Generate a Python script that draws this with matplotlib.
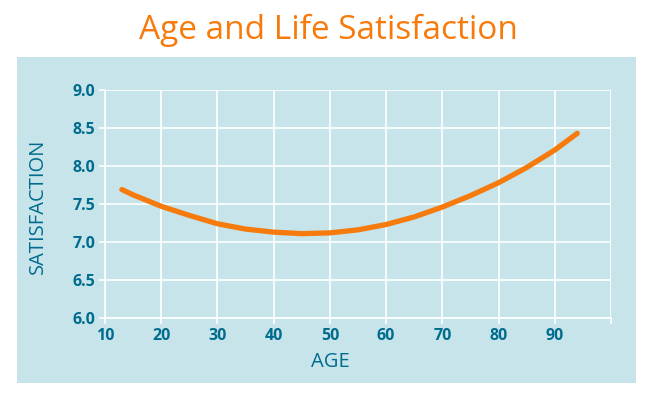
import matplotlib.pyplot as plt
from matplotlib.patches import Rectangle

# values
ages = [13, 15, 20, 25, 30, 35, 40, 45, 50, 55, 60, 65, 70, 75, 80, 85, 90, 94]
satisfaction = [7.69, 7.62, 7.47, 7.35, 7.24, 7.17, 7.13, 7.11, 7.12, 7.16,
                7.23, 7.33, 7.46, 7.61, 7.78, 7.98, 8.21, 8.43]
x_ticks = [10, 20, 30, 40, 50, 60, 70, 80, 90, 100]
x_tick_labels = ["10", "20", "30", "40", "50", "60", "70", "80", "90", ""]
y_ticks = [6.0, 6.5, 7.0, 7.5, 8.0, 8.5, 9.0]

ORANGE = "#F77A0C"
PANEL = "#C6E4EA"
TEAL = "#006C8E"

plt.rcParams['font.family'] = ['Open Sans', 'DejaVu Sans']

fig = plt.figure(figsize=(6.5, 3.97), dpi=100)
fig.patch.set_facecolor("white")

# light blue panel behind the plot
fig.patches.append(Rectangle((17 / 650, 14 / 397), 619 / 650, 326 / 397,
                             transform=fig.transFigure, facecolor=PANEL,
                             edgecolor="none", zorder=0))

fig.text(328 / 650, 1 - 30 / 397, "Age and Life Satisfaction", color=ORANGE,
         fontsize=24, ha="center", va="center")

ax = fig.add_axes([105 / 650, 79 / 397, 506 / 650, 228 / 397])
ax.set_zorder(2)
ax.set_facecolor(PANEL)
ax.plot(ages, satisfaction, color=ORANGE, linewidth=3.8,
        solid_capstyle="round", solid_joinstyle="round", zorder=3)

ax.set_xlim(10, 100)
ax.set_ylim(6.0, 9.0)
ax.set_xticks(x_ticks)
ax.set_xticklabels(x_tick_labels)
ax.set_yticks(y_ticks)
ax.set_yticklabels([f"{v:.1f}" for v in y_ticks])
ax.grid(True, color="white", linewidth=1.2)
ax.set_axisbelow(True)

for side in ["top", "right"]:
    ax.spines[side].set_visible(False)
for side in ["left", "bottom"]:
    ax.spines[side].set_color("white")
    ax.spines[side].set_linewidth(1.2)

ax.tick_params(colors="white", length=4, width=1.2, labelcolor=TEAL,
               labelsize=11.5, pad=3)
for lbl in ax.get_xticklabels() + ax.get_yticklabels():
    lbl.set_fontweight("bold")

ax.set_xlabel("AGE", color=TEAL, fontsize=14.5)
ax.xaxis.set_label_coords(0.445, -0.15)
ax.set_ylabel("SATISFACTION", color=TEAL, fontsize=14.5)
ax.yaxis.set_label_coords(-0.112, 0.49)

fig.savefig("out.png", dpi=100, facecolor="white")
